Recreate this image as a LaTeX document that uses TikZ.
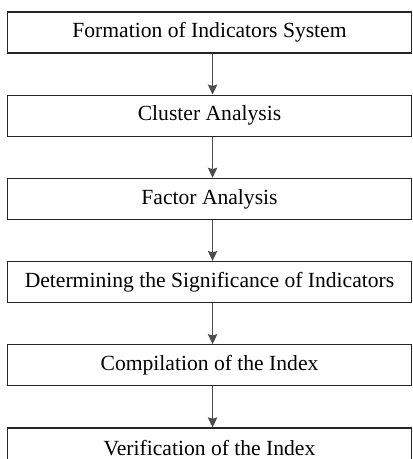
\documentclass[tikz,border=0pt]{standalone}
\usepackage{fontspec}
\setmainfont{Liberation Serif}
\usepackage{tikz}
\usetikzlibrary{positioning, arrows.meta}

\begin{document}
\begin{tikzpicture}[x=0.75pt, y=0.75pt,
        stage/.style={draw=black!85, line width=0.9pt, minimum width=303pt, minimum height=30.75pt, inner sep=0pt, font=\fontsize{16.2}{18}\selectfont},
        flow/.style={draw=black!70, line width=1.1pt, -{Stealth[length=7.5pt, width=7pt, inset=1pt]}},
        node distance=30.75pt]
        \useasboundingbox (0,0) rectangle (412,459);
        
        \node[stage] (form) at (209.5,426.5) {Formation of Indicators System};
        \node[stage, below=of form] (cluster) {Cluster Analysis};
        \node[stage, below=of cluster] (factor) {Factor Analysis};
        \node[stage, below=of factor] (signif) {Determining the Significance of Indicators};
        \node[stage, below=of signif] (compil) {Compilation of the Index};
        \node[stage, below=of compil] (verif) {Verification of the Index};
        
        \draw[flow] ([xshift=2.3pt]form.south) -- ([xshift=2.3pt]cluster.north);
        \draw[flow] ([xshift=2.3pt]cluster.south) -- ([xshift=2.3pt]factor.north);
        \draw[flow] ([xshift=2.3pt]factor.south) -- ([xshift=2.3pt]signif.north);
        \draw[flow] ([xshift=2.3pt]signif.south) -- ([xshift=2.3pt]compil.north);
        \draw[flow] ([xshift=2.3pt]compil.south) -- ([xshift=2.3pt]verif.north);
        
    \end{tikzpicture}
\end{document}
